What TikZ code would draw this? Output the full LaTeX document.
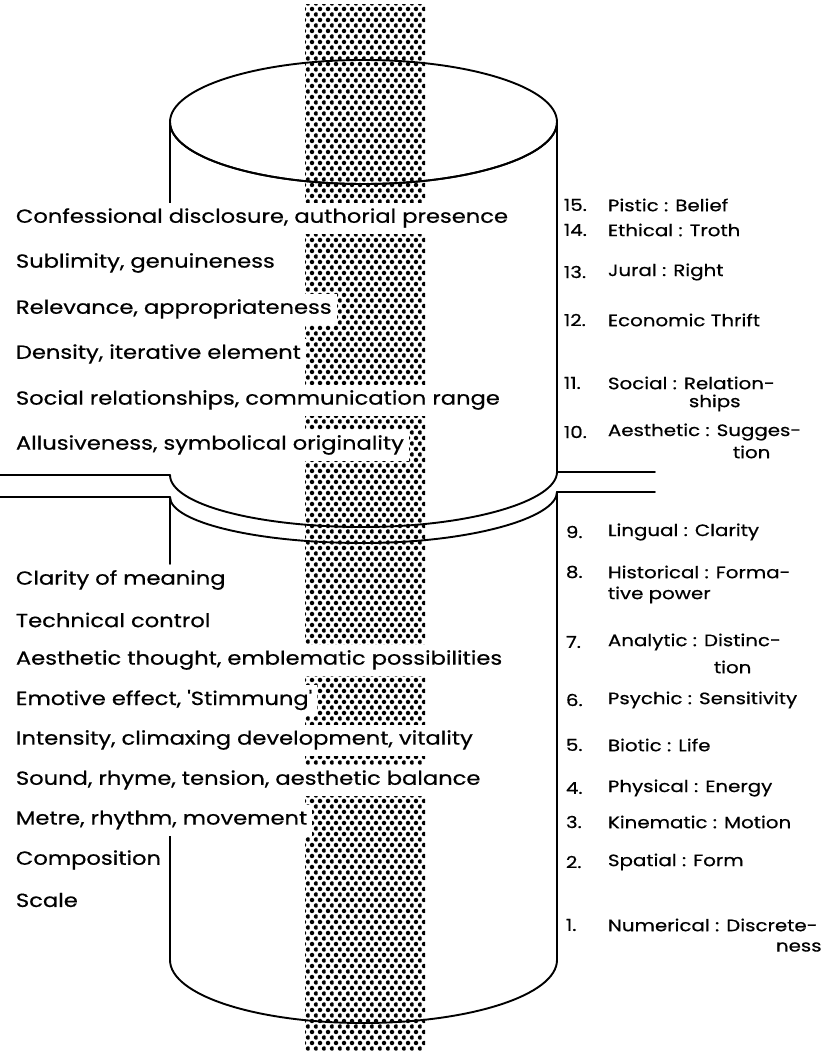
\documentclass[tikz,border=0pt]{standalone}
\usepackage{fontspec}
\setmainfont{Poppins}
\newfontfamily\lf{Poppins}[FakeBold=0.5]
\usepackage{graphicx}
\usetikzlibrary{patterns}

\pgfdeclarepatternformonly{stipple}{\pgfqpoint{-2.5pt}{-2.5pt}}{\pgfqpoint{5.5pt}{8.5pt}}{\pgfqpoint{8pt}{11pt}}{%
  \pgfpathcircle{\pgfqpoint{0pt}{0pt}}{2.25pt}%
  \pgfpathcircle{\pgfqpoint{4pt}{5.5pt}}{2.25pt}%
  \pgfusepath{fill}}

\newcommand\lft[1]{\scalebox{1.19}[1]{\lf\fontsize{19}{22}\selectfont #1}}
\newcommand\rgt[1]{\scalebox{1.2}[1]{\lf\fontsize{16.5}{19}\selectfont #1}}

\begin{document}
\begin{tikzpicture}[x=1pt,y=-1pt,line width=1.9pt,line join=round,line cap=round,
  ltxt/.style={anchor=west,fill=white,inner xsep=5pt,inner ysep=0pt,minimum height=31pt},
  rnum/.style={anchor=west,inner sep=0pt},
  rtxt/.style={anchor=west,inner sep=0pt}]
\useasboundingbox (0,0) rectangle (822,1054);

% key points
\coordinate (tl) at (170,122);
\coordinate (tr) at (557,122);
\coordinate (wul) at (170,475);
\coordinate (wur) at (557,472);
\coordinate (wll) at (170,497);
\coordinate (wlr) at (557,492);
\coordinate (bl) at (170,960);
\coordinate (br) at (557,960);
\coordinate (hul) at (0,475);
\coordinate (hll) at (0,497);
\coordinate (hur) at (655,472);
\coordinate (hlr) at (655,492);

% top ellipse (full), back part later hidden by the band
\draw (363.5,122) ellipse [x radius=193.5, y radius=62];
% lower waist curve (behind band)
\draw (wll) .. controls (170,522) and (256,543) .. (363,543) .. controls (470,543) and (557,518) .. (wlr);

% stippled band
\fill[pattern=stipple] (305,5) rectangle (425,1050);

% front edges over the band
\draw (tl) arc [start angle=180, end angle=0, x radius=193.5, y radius=62];
\draw (wul) .. controls (170,504) and (256,527) .. (363,527) .. controls (470,527) and (557,501) .. (wur);
\draw (bl) .. controls (170,995) and (256,1023) .. (363,1023) .. controls (470,1023) and (557,995) .. (br);

% sides and rims
\draw (tr) -- (wur) -- (hur);
\draw (hul) -- (wul);
\draw (hll) -- (wll) -- (170,564);
\draw (wlr) -- (br);
\draw (wlr) -- (hlr);
\draw (tl) -- (170,205);
\draw (170,836) -- (bl);

% left texts, upper group
\node[ltxt] (a1) at (10,218) {\lft{Confessional disclosure, authorial presence}};
\node[ltxt] (a2) at (10,263) {\lft{Sublimity, genuineness}};
\node[ltxt] (a3) at (10,309) {\lft{Relevance, appropriateness}};
\node[ltxt] (a4) at (10,354) {\lft{Density, iterative element}};
\node[ltxt] (a5) at (10,400) {\lft{Social relationships, communication range}};
\node[ltxt] (a6) at (10,445) {\lft{Allusiveness, symbolical originality}};
% left texts, lower group
\node[ltxt] (b1) at (10,580) {\lft{Clarity of meaning}};
\node[ltxt] (b2) at (10,620) {\lft{Technical control}};
\node[ltxt] (b3) at (10,660) {\lft{Aesthetic thought, emblematic possibilities}};
\node[ltxt] (b4) at (10,700) {\lft{Emotive effect, \textquotesingle Stimmung\textquotesingle}};
\node[ltxt] (b5) at (10,740) {\lft{Intensity, climaxing development, vitality}};
\node[ltxt] (b6) at (10,780) {\lft{Sound, rhyme, tension, aesthetic balance}};
\node[ltxt] (b7) at (10,820) {\lft{Metre, rhythm, movement}};
\node[ltxt] (b8) at (10,860) {\lft{Composition}};
\node[ltxt] (b9) at (10,900) {\lft{Scale}};

% right labels
\node[rnum] (n15) at (563,205) {\rgt{15.}};
\node[rtxt] (t15) at (607,205) {\rgt{Pistic : Belief}};
\node[rnum] (n14) at (563,230) {\rgt{14.}};
\node[rtxt] (t14) at (607,230) {\rgt{Ethical : Troth}};
\node[rnum] (n13) at (563,272) {\rgt{13.}};
\node[rtxt] (t13) at (607,272) {\rgt{Jural : Right}};
\node[rnum] (n12) at (563,320) {\rgt{12.}};
\node[rtxt] (t12) at (607,320) {\rgt{Economic Thrift}};
\node[rnum] (n11) at (563,383) {\rgt{11.}};
\node[rtxt] (t11) at (607,383) {\rgt{Social : Relation-}};
\node[rtxt] (u11) at (688,403) {\rgt{ships}};
\node[rnum] (n10) at (563,432) {\rgt{10.}};
\node[rtxt] (t10) at (607,432) {\rgt{Aesthetic : Sugges-}};
\node[rtxt] (u10) at (732,452) {\rgt{tion}};
\node[rnum] (n9) at (565,532) {\rgt{9.}};
\node[rtxt] (t9) at (607,532) {\rgt{Lingual : Clarity}};
\node[rnum] (n8) at (565,572) {\rgt{8.}};
\node[rtxt] (t8) at (607,572) {\rgt{Historical : Forma-}};
\node[rtxt] (u8) at (607,595) {\rgt{tive power}};
\node[rnum] (n7) at (565,642) {\rgt{7.}};
\node[rtxt] (t7) at (607,642) {\rgt{Analytic : Distinc-}};
\node[rtxt] (u7) at (713,667) {\rgt{tion}};
\node[rnum] (n6) at (565,700) {\rgt{6.}};
\node[rtxt] (t6) at (607,700) {\rgt{Psychic : Sensitivity}};
\node[rnum] (n5) at (565,745) {\rgt{5.}};
\node[rtxt] (t5) at (607,745) {\rgt{Biotic : Life}};
\node[rnum] (n4) at (565,788) {\rgt{4.}};
\node[rtxt] (t4) at (607,788) {\rgt{Physical : Energy}};
\node[rnum] (n3) at (565,822) {\rgt{3.}};
\node[rtxt] (t3) at (607,822) {\rgt{Kinematic : Motion}};
\node[rnum] (n2) at (565,862) {\rgt{2.}};
\node[rtxt] (t2) at (607,862) {\rgt{Spatial : Form}};
\node[rnum] (n1) at (565,925) {\rgt{1.}};
\node[rtxt] (t1) at (607,925) {\rgt{Numerical : Discrete-}};
\node[rtxt] (u1) at (775,947) {\rgt{ness}};
\end{tikzpicture}
\end{document}
